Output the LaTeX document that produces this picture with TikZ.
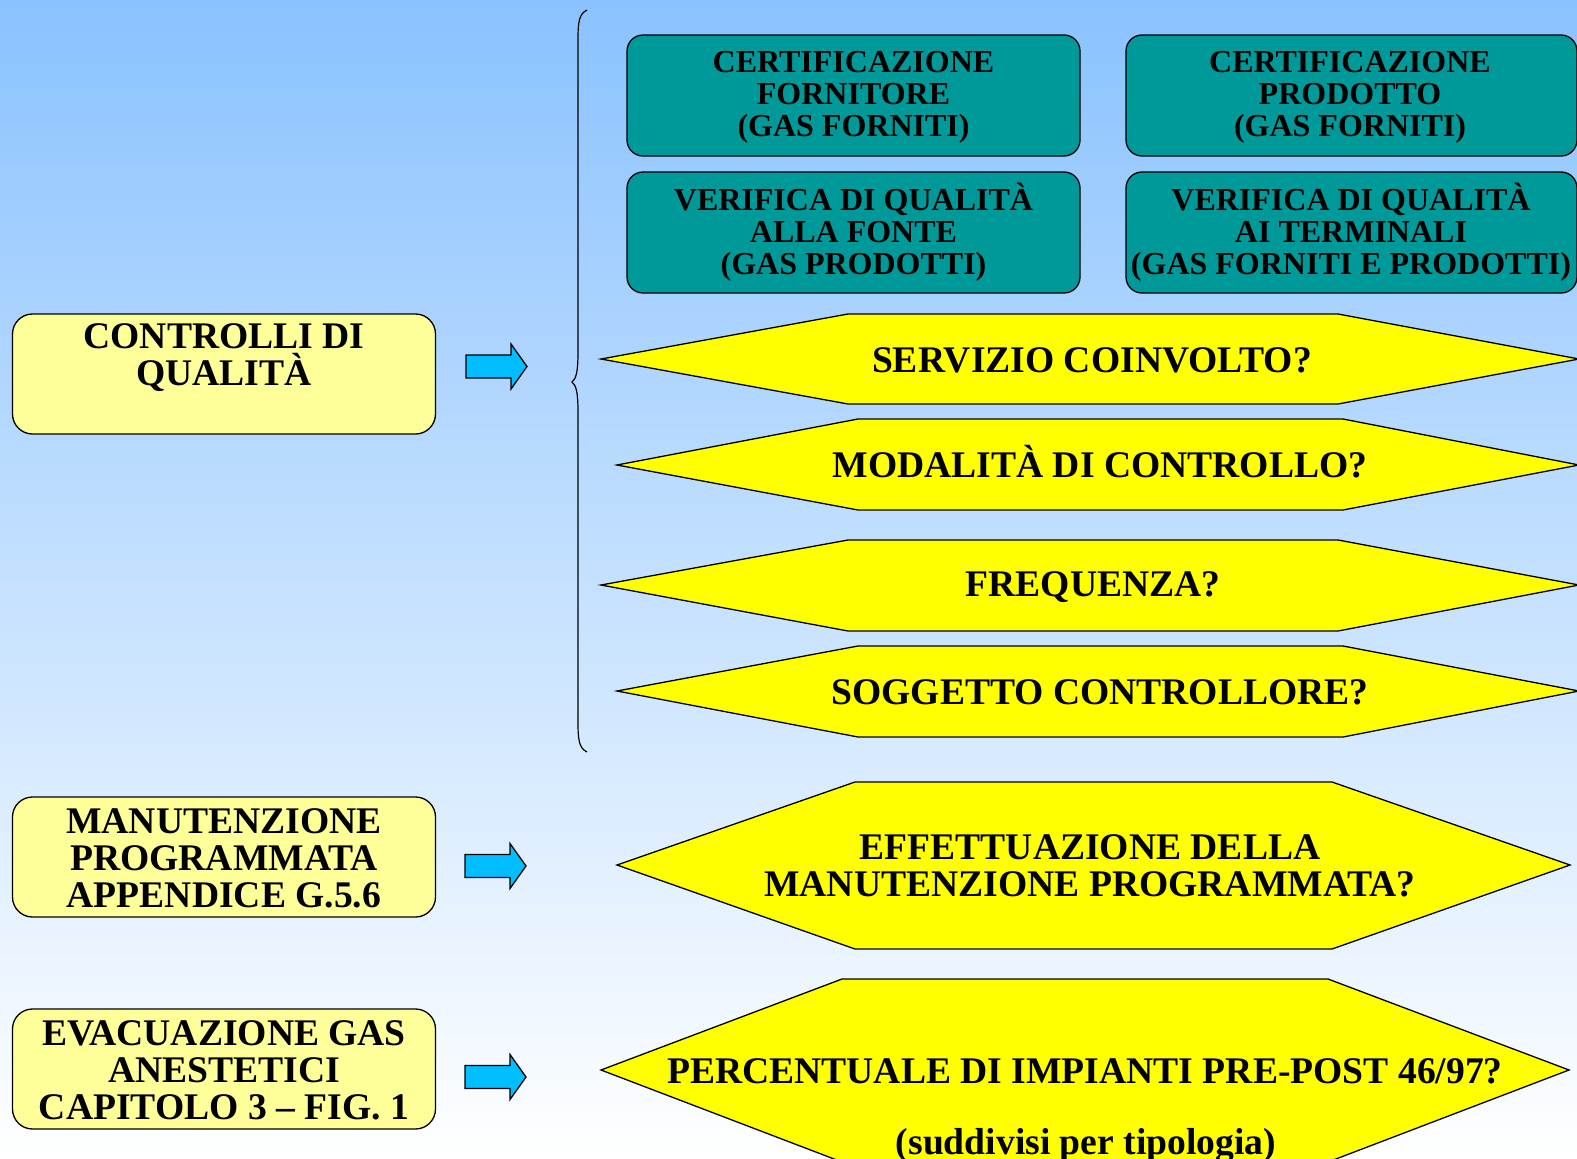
\documentclass[tikz,border=0pt]{standalone}
\usepackage{fontspec}
\setmainfont{Liberation Serif}
\definecolor{boxyellow}{HTML}{FFFF99}
\definecolor{tealfill}{HTML}{009999}
\definecolor{hexyellow}{HTML}{FFFF00}
\definecolor{arrowblue}{HTML}{00BEFF}
\definecolor{bgtop}{HTML}{8AC2FF}
\definecolor{bgmid}{HTML}{CFE2FF}
\begin{document}
\begin{tikzpicture}[x=1pt,y=-1pt,
  txt/.style={font=\bfseries\fontsize{37.6}{37}\selectfont, align=center, inner sep=0pt, text=black},
  ttxt/.style={font=\bfseries\fontsize{32}{32}\selectfont, align=center, inner sep=0pt, text=black},
  lbox/.style={draw=black, line width=1.3pt, fill=boxyellow, rounded corners=20pt, minimum width=423pt, minimum height=120pt, inner sep=0pt},
  tbox/.style={draw=black, line width=1.3pt, fill=tealfill, rounded corners=16pt, minimum width=453pt, minimum height=121pt, inner sep=0pt},
  hexa/.style={draw=black, line width=1.3pt, fill=hexyellow, line join=miter},
  barrow/.style={draw=black, line width=1.3pt, fill=arrowblue, line join=miter},
  blockarrow/.pic={\draw[barrow] (0,-11.5) -- (45,-11.5) -- (45,-22.5) -- (61,0) -- (45,22.5) -- (45,11.5) -- (0,11.5) -- cycle;}]

\useasboundingbox (0,0) rectangle (1577,1159);
\shade[top color=bgtop, middle color=bgmid, bottom color=white] (0,0) rectangle (1577,1159);

% left boxes
\node[lbox] (b1) at (224,374) {};
\node[txt] (b1t) at (224,358) {CONTROLLI DI\\QUALITÀ};
\node[lbox] (b2) at (224,857) {};
\node[txt] (b2t) at (224,858) {MANUTENZIONE\\PROGRAMMATA\\APPENDICE G.5.6};
\node[lbox] (b3) at (224,1069) {};
\node[txt] (b3t) at (224,1070) {EVACUAZIONE GAS\\ANESTETICI\\CAPITOLO 3 – FIG. 1};

% arrows
\pic at (466,366.5) {blockarrow};
\pic at (465,866) {blockarrow};
\pic at (465,1077) {blockarrow};

% brace
\draw[line width=1.2pt] (587,10) .. controls (579,14) and (578,22) .. (578,40)
  -- (578,352) .. controls (578,372) and (576,379) .. (572,382)
  .. controls (576,385) and (578,392) .. (578,412)
  -- (578,722) .. controls (578,740) and (579,748) .. (587,752);

% teal boxes
\node[tbox] (ta) at (853.5,95.5) {};
\node[ttxt] (tat) at (853.5,97) {CERTIFICAZIONE\\FORNITORE\\(GAS FORNITI)};
\node[tbox, minimum width=451pt] (tb) at (1351.5,95.5) {};
\node[ttxt] (tbt) at (1350,97) {CERTIFICAZIONE\\PRODOTTO\\(GAS FORNITI)};
\node[tbox] (tc) at (853.5,232.5) {};
\node[ttxt] (tct) at (853.5,232) {VERIFICA DI QUALITÀ\\ALLA FONTE\\(GAS PRODOTTI)};
\node[tbox, minimum width=451pt] (td) at (1351.5,232.5) {};
\node[ttxt] (tdt) at (1351,232) {VERIFICA DI QUALITÀ\\AI TERMINALI\\(GAS FORNITI E PRODOTTI)};

% hexagons
\draw[hexa] (601,359) -- (848,314) -- (1338,314) -- (1579,359) -- (1338,404) -- (848,404) -- cycle;
\node[txt] (h1) at (1092,360) {SERVIZIO COINVOLTO?};
\draw[hexa] (617,465) -- (858,419) -- (1343,419) -- (1579,465) -- (1343,510) -- (858,510) -- cycle;
\node[txt] (h2) at (1100,462) {MODALITÀ DI CONTROLLO?};
\draw[hexa] (601,585) -- (848,540) -- (1338,540) -- (1579,585) -- (1338,631) -- (848,631) -- cycle;
\node[txt] (h3) at (1093,587) {FREQUENZA?};
\draw[hexa] (617,691) -- (858,646) -- (1343,646) -- (1579,691) -- (1343,737) -- (858,737) -- cycle;
\node[txt] (h4) at (1100,692) {SOGGETTO CONTROLLORE?};
\draw[hexa] (617,865) -- (855,782) -- (1332,782) -- (1570,865) -- (1332,949) -- (855,949) -- cycle;
\node[txt] (h5) at (1090,866) {EFFETTUAZIONE DELLA\\MANUTENZIONE PROGRAMMATA?};
\draw[hexa] (601,1070) -- (842,979) -- (1328,979) -- (1569,1070) -- (1328,1162) -- (842,1162) -- cycle;
\node[txt] (h6) at (1085,1071) {PERCENTUALE DI IMPIANTI PRE-POST 46/97?};
\node[txt] (h6b) at (1086,1146) {(suddivisi per tipologia)};
\end{tikzpicture}
\end{document}
